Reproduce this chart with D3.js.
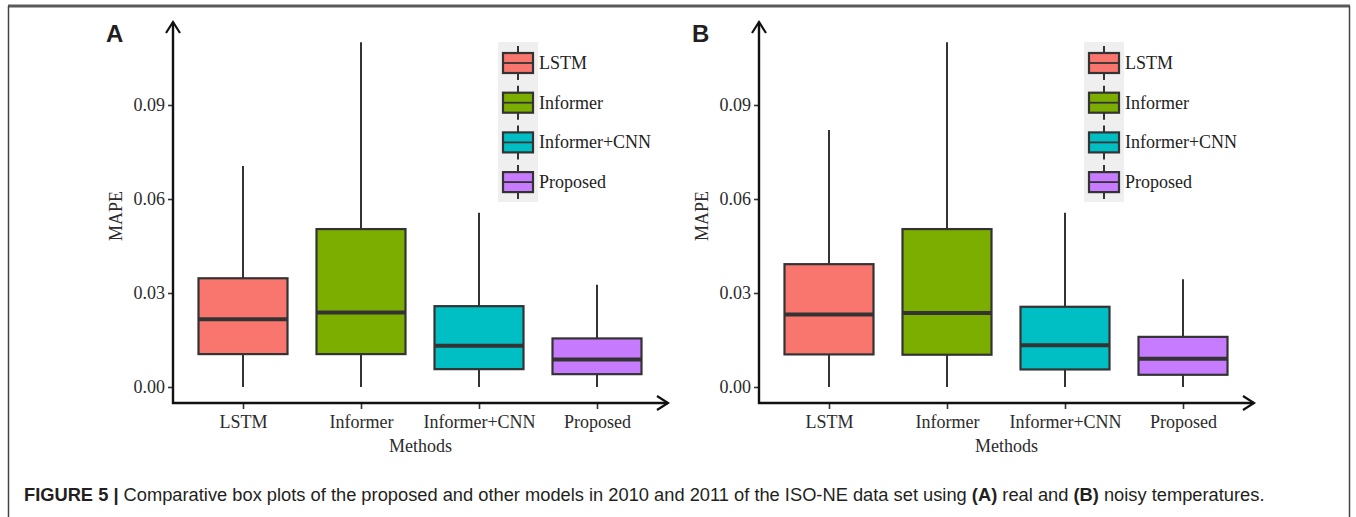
<!DOCTYPE html>
<html>
<head>
<meta charset="utf-8">
<script src="https://cdn.jsdelivr.net/npm/d3@7"></script>
<style>
  body { margin: 0; background: #fff; }
  svg { display: block; }
</style>
</head>
<body>
<div id="chart-area"></div>
<script>
const WIDTH = 1356,
    HEIGHT = 517,
    PANEL_OFFSET = 586,
    AXIS_X = 173,
    AXIS_Y = 403,
    AXIS_TOP = 22,
    AXIS_RIGHT = 668,
    BOX_WIDTH = 89,
    FONT_SIZE = 18,
    STROKE = '#333',
    SERIF = '"Liberation Serif", "Times New Roman", serif',
    SANS = '"Liberation Sans", Arial, sans-serif';

// data
const methods = ["LSTM", "Informer", "Informer+CNN", "Proposed"];
const colors = ["#F8766D", "#7CAE00", "#00BFC4", "#C77CFF"];
const yTicks = [0, 0.03, 0.06, 0.09];

// panel A: real temperatures
const lowA = [0, 0, 0, 0];
const q1A = [0.0105, 0.0105, 0.0057, 0.0041];
const medA = [0.0216, 0.0238, 0.0132, 0.0088];
const q3A = [0.0347, 0.0504, 0.0258, 0.0155];
const highA = [0.0705, 0.110, 0.0556, 0.0326];

// panel B: noisy temperatures
const lowB = [0, 0, 0, 0];
const q1B = [0.0104, 0.0103, 0.0056, 0.0039];
const medB = [0.0231, 0.0236, 0.0133, 0.0090];
const q3B = [0.0392, 0.0504, 0.0256, 0.0160];
const highB = [0.0820, 0.110, 0.0556, 0.0344];

let svg = d3.select("#chart-area")
    .append("svg")
    .attr("width", WIDTH)
    .attr("height", HEIGHT);

// figure frame
svg.append("line").attr("x1", 8).attr("x2", 1350).attr("y1", 6).attr("y2", 6)
    .attr("stroke", "#5a5a5a").attr("stroke-width", 3);
svg.append("line").attr("x1", 8.5).attr("x2", 8.5).attr("y1", 6).attr("y2", HEIGHT)
    .attr("stroke", "#444").attr("stroke-width", 1.5);
svg.append("line").attr("x1", 1349.5).attr("x2", 1349.5).attr("y1", 6).attr("y2", HEIGHT)
    .attr("stroke", "#444").attr("stroke-width", 1.5);

let y = d3.scaleLinear().domain([0, 0.09]).range([387, 105]);

drawPanel(0, "A", lowA, q1A, medA, q3A, highA);
drawPanel(PANEL_OFFSET, "B", lowB, q1B, medB, q3B, highB);

function drawPanel(dx, label, low, q1, med, q3, high) {
    let g = svg.append("g").attr("transform", `translate(${dx},0)`);
    let x = d3.scalePoint().domain(methods).range([243, 597]);

    let stats = methods.map((m, i) => ({
        name: m, color: colors[i],
        low: low[i], q1: q1[i], med: med[i], q3: q3[i], high: high[i]
    }));

    // panel letter
    g.append("text")
        .attr("x", 106).attr("y", 42)
        .attr("font-family", SANS).attr("font-weight", "bold")
        .attr("font-size", 24).attr("fill", "#231f20")
        .text(label);

    // whiskers
    g.append("g").selectAll("line")
        .data(stats)
        .join("line")
        .attr("x1", d => x(d.name)).attr("x2", d => x(d.name))
        .attr("y1", d => y(d.low)).attr("y2", d => y(d.high))
        .attr("stroke", STROKE).attr("stroke-width", 2);

    // boxes
    g.append("g").selectAll("rect")
        .data(stats)
        .join("rect")
        .attr("x", d => x(d.name) - BOX_WIDTH / 2)
        .attr("width", BOX_WIDTH)
        .attr("y", d => y(d.q3))
        .attr("height", d => y(d.q1) - y(d.q3))
        .attr("fill", d => d.color)
        .attr("stroke", STROKE).attr("stroke-width", 2.2);

    // medians
    g.append("g").selectAll("line")
        .data(stats)
        .join("line")
        .attr("x1", d => x(d.name) - BOX_WIDTH / 2).attr("x2", d => x(d.name) + BOX_WIDTH / 2)
        .attr("y1", d => y(d.med)).attr("y2", d => y(d.med))
        .attr("stroke", STROKE).attr("stroke-width", 4);

    // y axis
    let yAxis = g.append("g")
        .attr("transform", `translate(${AXIS_X},0)`)
        .call(d3.axisLeft(y).tickValues(yTicks).tickFormat(d3.format(".2f")).tickSize(5).tickPadding(3));
    yAxis.select(".domain").remove();
    yAxis.selectAll(".tick line").attr("stroke", STROKE).attr("stroke-width", 1.6);
    yAxis.selectAll(".tick text")
        .attr("font-family", SERIF).attr("font-size", FONT_SIZE).attr("fill", "#2b2b2b");

    // x axis ticks and labels
    let xAxis = g.append("g")
        .attr("transform", `translate(0,${AXIS_Y})`)
        .call(d3.axisBottom(x).tickSize(6).tickPadding(6));
    xAxis.select(".domain").remove();
    xAxis.selectAll(".tick line").attr("stroke", STROKE).attr("stroke-width", 1.6);
    xAxis.selectAll(".tick text")
        .attr("font-family", SERIF).attr("font-size", FONT_SIZE).attr("fill", "#2b2b2b");

    // axis lines with open arrow heads
    let axisPath = d3.path();
    axisPath.moveTo(AXIS_X, AXIS_TOP);
    axisPath.lineTo(AXIS_X, AXIS_Y);
    axisPath.lineTo(AXIS_RIGHT, AXIS_Y);
    g.append("path").attr("d", axisPath.toString())
        .attr("fill", "none").attr("stroke", "#111").attr("stroke-width", 2.4);
    g.append("path")
        .attr("d", `M${AXIS_X - 7},${AXIS_TOP + 11}L${AXIS_X},${AXIS_TOP}L${AXIS_X + 7},${AXIS_TOP + 11}`)
        .attr("fill", "none").attr("stroke", "#111").attr("stroke-width", 2.2);
    g.append("path")
        .attr("d", `M${AXIS_RIGHT - 11},${AXIS_Y - 7}L${AXIS_RIGHT},${AXIS_Y}L${AXIS_RIGHT - 11},${AXIS_Y + 7}`)
        .attr("fill", "none").attr("stroke", "#111").attr("stroke-width", 2.2);

    // axis titles
    g.append("text")
        .attr("transform", `translate(122,216) rotate(-90)`)
        .attr("text-anchor", "middle")
        .attr("font-family", SERIF).attr("font-size", FONT_SIZE).attr("fill", "#2b2b2b")
        .text("MAPE");
    g.append("text")
        .attr("x", (AXIS_X + AXIS_RIGHT) / 2).attr("y", 452)
        .attr("text-anchor", "middle")
        .attr("font-family", SERIF).attr("font-size", FONT_SIZE).attr("fill", "#2b2b2b")
        .text("Methods");

    // legend
    let legend = g.append("g");
    legend.append("rect")
        .attr("x", 498).attr("y", 42).attr("width", 40).attr("height", 160)
        .attr("fill", "#efefef");
    let keys = legend.selectAll("g.key")
        .data(stats)
        .join("g")
        .attr("class", "key")
        .attr("transform", (d, i) => `translate(518,${63 + i * 39.7})`);
    keys.append("line")
        .attr("y1", -17).attr("y2", 17)
        .attr("stroke", STROKE).attr("stroke-width", 2);
    keys.append("rect")
        .attr("x", -15).attr("y", -10).attr("width", 30).attr("height", 20)
        .attr("fill", d => d.color)
        .attr("stroke", STROKE).attr("stroke-width", 2.2);
    keys.append("line")
        .attr("x1", -15).attr("x2", 15)
        .attr("stroke", STROKE).attr("stroke-width", 1.8);
    keys.append("text")
        .attr("x", 21).attr("y", 6)
        .attr("font-family", SERIF).attr("font-size", FONT_SIZE).attr("fill", "#222")
        .text(d => d.name);
}

// caption
let caption = svg.append("text")
    .attr("x", 24).attr("y", 501)
    .attr("font-family", SANS).attr("font-size", 18.3).attr("fill", "#231f20");
caption.append("tspan").attr("font-weight", "bold").text("FIGURE 5 | ");
caption.append("tspan").text("Comparative box plots of the proposed and other models in 2010 and 2011 of the ISO-NE data set using ");
caption.append("tspan").attr("font-weight", "bold").text("(A)");
caption.append("tspan").text(" real and ");
caption.append("tspan").attr("font-weight", "bold").text("(B)");
caption.append("tspan").text(" noisy temperatures.");
</script>
</body>
</html>
